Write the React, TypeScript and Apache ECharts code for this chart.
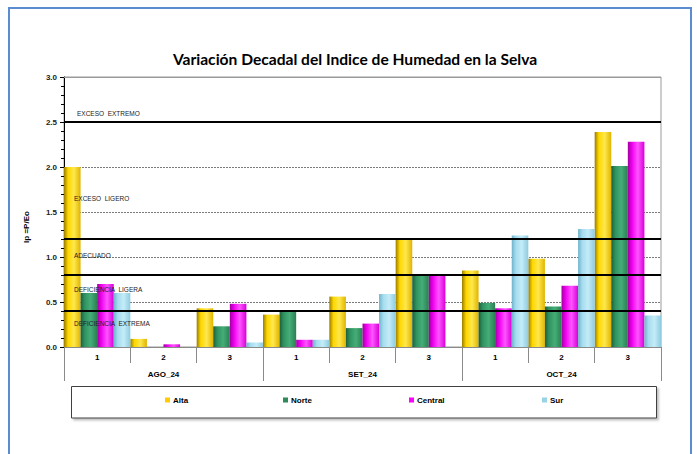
import React, { useEffect, useRef } from "react";
import * as echarts from "echarts";

const decades = ["1", "2", "3", "1", "2", "3", "1", "2", "3"];
const months = ["AGO_24", "SET_24", "OCT_24"];
const seriesNames = ["Alta", "Norte", "Central", "Sur"];
const alta = [2.0, 0.09, 0.43, 0.36, 0.56, 1.19, 0.85, 0.98, 2.39];
const norte = [0.6, 0.0, 0.23, 0.4, 0.21, 0.81, 0.49, 0.45, 2.01];
const central = [0.7, 0.03, 0.48, 0.08, 0.26, 0.81, 0.43, 0.68, 2.28];
const sur = [0.6, 0.0, 0.05, 0.08, 0.59, 0.0, 1.24, 1.31, 0.35];
const thresholds = [0.4, 0.8, 1.2, 2.5];
const yMax = 3;
const yAxisTitle = "Ip =P/Eo";
const zoneLabels = ["EXCESO  EXTREMO", "EXCESO  LIGERO", "ADECUADO", "DEFICIENCIA  LIGERA", "DEFICIENCIA  EXTREMA"];
const zoneLabelValues = [2.6, 1.65, 1.02, 0.64, 0.26];

const baseColors = ["#FFCC00", "#2E8B57", "#FF00FF", "#99D3E6"];
const gradStops = [
  ["#9a7d00", "#ffd700", "#ffe84d", "#e0b400"],
  ["#1c5e3c", "#2f9360", "#45ad78", "#2a7f52"],
  ["#a000a0", "#f000f0", "#ff55ff", "#d800d8"],
  ["#6fb3cc", "#a6dcee", "#c4ecf8", "#8fcbe0"],
];

function grad(i: number) {
  const s = gradStops[i];
  return new echarts.graphic.LinearGradient(0, 0, 1, 0, [
    { offset: 0, color: s[0] },
    { offset: 0.25, color: s[1] },
    { offset: 0.6, color: s[2] },
    { offset: 1, color: s[3] },
  ]);
}

export default function App() {
  const ref = useRef<HTMLDivElement>(null);
  useEffect(() => {
    document.body.style.margin = "0";
    const chart = echarts.init(ref.current!, null, { renderer: "svg" });
    const data = [alta, norte, central, sur];
    const legendLefts = [165, 283, 409, 542];
    const font = "Liberation Sans";
    chart.setOption({
      animation: false,
      backgroundColor: "#ffffff",
      title: {
        text: "Variación Decadal del Indice de Humedad en la Selva",
        left: 350,
        textAlign: "center",
        top: 46,
        textStyle: { fontFamily: "Lato", fontWeight: "bold", fontSize: 15.6, color: "#000" },
      },
      grid: { left: 64, right: 36, top: 77, bottom: 107, show: true, borderColor: "#9a9a9a", borderWidth: 1, backgroundColor: "transparent" },
      legend: seriesNames.map((n, i) => ({
        data: [{ name: n, itemStyle: { color: baseColors[i] } }],
        left: legendLefts[i],
        top: 396,
        padding: 0,
        itemWidth: 5,
        itemHeight: 5,
        icon: "rect",
        textStyle: { fontFamily: font, fontWeight: "bold", fontSize: 8, color: "#000", padding: [0, 0, 0, -2] },
      })),
      xAxis: [
        {
          type: "category",
          data: decades,
          position: "bottom",
          axisLine: { show: true, lineStyle: { color: "#8a8a8a", width: 1 } },
          axisTick: { show: true, interval: 0, length: 16, lineStyle: { color: "#8a8a8a" } },
          axisLabel: { margin: 6, fontFamily: font, fontWeight: "bold", fontSize: 8, color: "#000", interval: 0 },
        },
        {
          type: "category",
          data: months,
          position: "bottom",
          axisLine: { show: false },
          axisTick: { show: true, interval: 0, length: 34, lineStyle: { color: "#8a8a8a" } },
          axisLabel: { margin: 23, fontFamily: font, fontWeight: "bold", fontSize: 8, color: "#000", interval: 0 },
        },
      ],
      yAxis: {
        type: "value",
        min: 0,
        max: yMax,
        interval: 0.5,
        axisLine: { show: true, lineStyle: { color: "#000", width: 1 } },
        axisTick: { show: true, length: 4, lineStyle: { color: "#000" } },
        minorTick: { show: true, splitNumber: 5, length: 3, lineStyle: { color: "#000" } },
        axisLabel: { margin: 7, fontFamily: font, fontWeight: "bold", fontSize: 8, color: "#222", formatter: (v: number) => v.toFixed(1) },
        splitLine: { show: true, lineStyle: { color: "#7a7a7a", type: [2, 1], width: 1 } },
      },
      series: seriesNames.map((n, i) => ({
        name: n,
        type: "bar",
        data: data[i],
        barGap: "0%",
        barCategoryGap: "0%",
        itemStyle: { color: grad(i) },
        ...(i === 3
          ? {
              markLine: {
                silent: true,
                symbol: "none",
                label: { show: false },
                lineStyle: { color: "#000", width: 2, type: "solid" },
                data: [
                  ...thresholds.map((t) => ({ yAxis: t })),
                  { yAxis: yMax, lineStyle: { color: "#9a9a9a", width: 1, type: "solid" } },
                ],
                z: 10,
              },
            }
          : {}),
      })),
    });

    const gridLeft = 64;
    const labelGraphics = zoneLabels.map((t, i) => {
      const y = chart.convertToPixel({ yAxisIndex: 0 }, zoneLabelValues[i]) as number;
      return {
        type: "text",
        x: gridLeft + (i === 0 ? 13 : 10),
        y,
        z: 100,
        style: { text: t, fontFamily: font, fontSize: 6.5, fill: "#222", textVerticalAlign: "middle", textAlign: "left" },
      };
    });
    chart.setOption({
      graphic: [
        {
          type: "rect",
          shape: { x: 9, y: 8, width: 682, height: 480 },
          z: 100,
          style: { fill: "none", stroke: "#5B8BD0", lineWidth: 2 },
        },
        {
          type: "rect",
          shape: { x: 71.5, y: 386.5, width: 585, height: 31.5 },
          z: -1,
          style: { fill: "#fff", stroke: "#404040", lineWidth: 1, shadowBlur: 2, shadowOffsetX: 2, shadowOffsetY: 2, shadowColor: "rgba(0,0,0,0.25)" },
        },
        {
          type: "text",
          x: 26,
          y: 227,
          rotation: Math.PI / 2,
          z: 100,
          style: { text: yAxisTitle, fontFamily: font, fontWeight: "bold", fontSize: 8, fill: "#000", textAlign: "center", textVerticalAlign: "middle" },
        },
        ...labelGraphics,
      ],
    });
    return () => chart.dispose();
  }, []);
  return <div ref={ref} style={{ width: 697, height: 454 }} />;
}
